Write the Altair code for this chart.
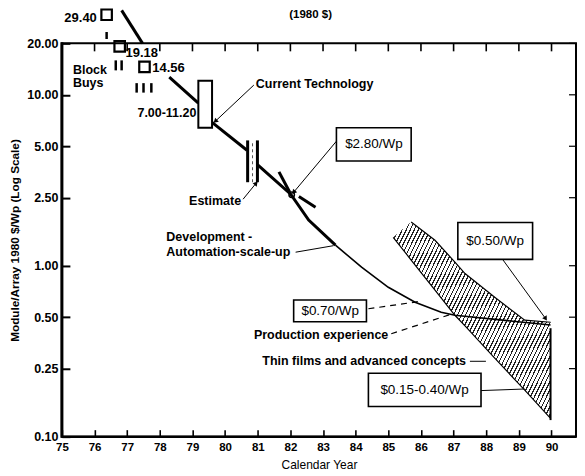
import math
import altair as alt
import pandas as pd

FONT = "Liberation Sans"
W, H = 515, 394
X0, X1 = 75, 90.75
V0, V1 = 0.1, 20

# ---------------- axis values ----------------
year_ticks = list(range(75, 91))
value_ticks = [0.10, 0.25, 0.50, 1.00, 2.50, 5.00, 10.00, 20.00]

# ---------------- data ----------------
# block buys (open squares)
bb_year = [76.37, 76.77, 77.53]
bb_value = [29.40, 19.18, 14.56]

# block buy tally strokes (I, II, III)
tally_year = [76.37, 76.65, 76.83, 77.29, 77.50, 77.74]
tally_top = [23.3, 15.9, 15.9, 11.7, 11.7, 11.7]
tally_bot = [21.2, 13.9, 13.9, 10.3, 10.3, 10.3]

# steep trend line leaving the top of the frame
steep_year = [76.83, 77.47]
steep_value = [31.2, 20.0]

# current technology
ct_in_year = [78.29, 79.18]
ct_in_value = [12.7, 8.94]
ct_box_year = [79.18, 79.60]
ct_box_value = [6.42, 12.1]
ct_out_year = [79.60, 80.67]
ct_out_value = [6.9, 4.74]

# estimate bar
est_bar_year = [80.69, 80.99]
est_mid_year = [80.84]
est_value = [3.08, 5.41]

# development / automation curve
dev_thick_year = [80.99, 82.01, 82.56, 83.38]
dev_thick_value = [3.90, 2.62, 1.85, 1.32]
dev_thin_year = [83.38, 84.18, 85.00, 85.82, 86.62, 87.04, 89.97]
dev_thin_value = [1.32, 0.98, 0.748, 0.611, 0.535, 0.513, 0.45]

# short strokes at the $2.80 point
tan_a_year = [81.65, 81.98]
tan_a_value = [3.54, 2.69]
tan_b_year = [82.26, 82.77]
tan_b_value = [2.54, 2.20]
pt280_year = [82.04]
pt280_value = [2.60]

# shaded (hatched) band: thin films and advanced concepts
band_year = [85.15, 85.70, 86.43, 87.04, 87.35, 88.26, 89.18, 89.97]
band_upper = [1.467, 1.80, 1.41, 1.05, 0.90, 0.654, 0.48, 0.467]
band_lower = [1.467, 1.08, 0.72, 0.513, 0.445, 0.288, 0.187, 0.128]
range90_year = [89.97]
range90_value = [0.125, 0.431]

# boxed labels
box_text = ["$2.80/Wp", "$0.50/Wp", "$0.70/Wp", "$0.15-0.40/Wp"]
box_x1 = [83.41, 87.13, 82.10, 84.39]
box_x2 = [85.70, 89.42, 84.33, 87.84]
box_v1 = [4.10, 1.09, 0.47, 0.150]
box_v2 = [6.42, 1.79, 0.63, 0.235]
box_tx = [84.56, 88.27, 83.22, 86.11]
box_tv = [5.13, 1.40, 0.545, 0.188]

# leader lines (solid)
lead_solid = {
    "ct": ([80.88, 79.70], [11.4, 7.0]),
    "est": ([80.55, 80.95], [2.45, 3.04]),
    "p280": ([83.41, 82.10], [5.35, 2.69]),
    "auto": ([82.16, 83.32], [1.20, 1.31]),
    "thin": ([87.50, 87.99], [0.276, 0.276]),
    "b15": ([87.84, 89.18], [0.186, 0.19]),
    "b50": ([88.50, 89.82], [1.09, 0.49]),
}
# leader lines (dashed)
lead_dash = {
    "b70": ([84.39, 86.01], [0.56, 0.62]),
    "prod": ([85.09, 86.92], [0.40, 0.52]),
}
# arrow heads
arrow_year = [79.70, 80.95, 82.10, 89.82]
arrow_value = [7.0, 3.04, 2.69, 0.49]
arrow_angle = [227, 40, 219, 148]

# text annotations
num_text = ["19.18", "14.56"]
num_x = [76.95, 77.77]
num_v = [17.6, 14.3]
num_r_text = ["29.40"]
num_r_x = [76.07]
num_r_v = [28.0]

left_text = ["Block", "Buys", "Current Technology", "Development -", "Automation-scale-up"]
left_x = [75.34, 75.34, 80.94, 78.20, 78.20]
left_v = [13.9, 11.7, 11.5, 1.47, 1.20]

right_text = ["7.00-11.20", "Estimate", "Production experience",
              "Thin films and advanced concepts"]
right_x = [79.12, 80.49, 85.00, 87.38]
right_v = [7.8, 2.4, 0.395, 0.276]

title_text = ["(1980 $)"]
title_x = [82.62]
title_v = [29.2]

# ---------------- scales and shared axes ----------------
xs = alt.Scale(domain=[X0, X1], nice=False, zero=False)
ys = alt.Scale(type="log", domain=[V0, V1], nice=False)

# axes are pulled inside the frame by their tick length so the ticks point inward
x_axis = alt.Axis(
    orient="bottom", values=year_ticks, format="d", labelFlush=False,
    labelOverlap=False, ticks=True, tickSize=7, tickWidth=1.6, offset=-7,
    domain=False, labelPadding=5, grid=False,
    labelFontSize=11.5, labelFontWeight="bold",
    title="Calendar Year", titleFontSize=12, titleFontWeight="normal",
    titlePadding=6)
y_axis = alt.Axis(
    orient="left", values=value_ticks, format=".2f", labelOverlap=False,
    ticks=True, tickSize=8, tickWidth=2, offset=-8,
    domain=False, labelPadding=4, grid=False,
    labelFontSize=12.5, labelFontWeight="bold",
    title="Module/Array 1980 $/Wp (Log Scale)", titleFontSize=11.8,
    titleFontWeight="bold", titlePadding=6)


def X(f="year"):
    return alt.X(f"{f}:Q", scale=xs, axis=x_axis)


def Y(f="value"):
    return alt.Y(f"{f}:Q", scale=ys, axis=y_axis)


def seg_df(segs):
    rows = []
    for name, (xv, vv) in segs.items():
        for a, b in zip(xv, vv):
            rows.append({"seg": name, "year": a, "value": b})
    return pd.DataFrame(rows)


# inward ticks on the top and right frame, heavier left/bottom frame lines
tick_top = alt.Chart(pd.DataFrame({"year": year_ticks})).mark_rule(
    color="black", strokeWidth=1.6).encode(x=X(), y=alt.value(0), y2=alt.value(8))
tick_right = alt.Chart(pd.DataFrame({"value": value_ticks})).mark_rule(
    color="black", strokeWidth=1.2).encode(y=Y(), x=alt.value(W - 7), x2=alt.value(W))
frame_left = alt.Chart(pd.DataFrame({"value": [V0]})).mark_rule(
    color="black", strokeWidth=3).encode(x=alt.value(0), y=alt.value(-1), y2=alt.value(H + 1))
frame_bottom = alt.Chart(pd.DataFrame({"value": [V0]})).mark_rule(
    color="black", strokeWidth=2.5).encode(y=alt.value(H), x=alt.value(0), x2=alt.value(W))

# ---------------- hatched band ----------------
N = 64
stops = []
for i in range(N):
    a = i / N
    b = (i + 0.32) / N
    c = (i + 1) / N
    stops += [{"offset": a, "color": "#222222"}, {"offset": b, "color": "#222222"},
              {"offset": b, "color": "#ffffff"}, {"offset": c, "color": "#ffffff"}]
hatch_fill = {"gradient": "linear", "x1": 0, "y1": 0, "x2": 1.2, "y2": 0.72, "stops": stops}

band_df = pd.DataFrame({"year": band_year, "upper": band_upper, "lower": band_lower})
band = alt.Chart(band_df).mark_area(fill=hatch_fill, strokeWidth=0).encode(
    x=X(), y=Y("upper"), y2="lower:Q")
band_up = alt.Chart(band_df.iloc[1:]).mark_line(color="black", strokeWidth=1.2).encode(
    x=X(), y=Y("upper"))
band_lo = alt.Chart(band_df).mark_line(color="black", strokeWidth=1.2).encode(
    x=X(), y=Y("lower"))

range90 = alt.Chart(pd.DataFrame({"year": range90_year, "lo": [range90_value[0]],
                                  "hi": [range90_value[1]]})).mark_rule(
    color="black", strokeWidth=2).encode(x=X(), y=Y("lo"), y2="hi:Q")

# ---------------- main lines ----------------
thick_df = seg_df({
    "steep": (steep_year, steep_value),
    "ct_in": (ct_in_year, ct_in_value),
    "ct_out": (ct_out_year, ct_out_value),
    "dev": (dev_thick_year, dev_thick_value),
    "ta": (tan_a_year, tan_a_value),
    "tb": (tan_b_year, tan_b_value),
})
thick = alt.Chart(thick_df).mark_line(color="black", strokeWidth=3, clip=False).encode(
    x=X(), y=Y(), detail="seg:N")

dev_thin = alt.Chart(pd.DataFrame({"year": dev_thin_year, "value": dev_thin_value})).mark_line(
    color="black", strokeWidth=1.6).encode(x=X(), y=Y())

pt280 = alt.Chart(pd.DataFrame({"year": pt280_year, "value": pt280_value})).mark_point(
    shape="circle", filled=False, color="black", size=30, strokeWidth=1.5, opacity=1).encode(
    x=X(), y=Y())

# current technology box
ct_box = alt.Chart(pd.DataFrame({"x1": [ct_box_year[0]], "x2": [ct_box_year[1]],
                                 "v1": [ct_box_value[0]], "v2": [ct_box_value[1]]})).mark_rect(
    fill="white", stroke="black", strokeWidth=2).encode(
    x=X("x1"), x2="x2:Q", y=Y("v1"), y2="v2:Q")

# estimate bars
est_df = pd.DataFrame({"year": est_bar_year, "lo": [est_value[0]] * 2, "hi": [est_value[1]] * 2})
est_bars = alt.Chart(est_df).mark_rule(color="black", strokeWidth=3).encode(
    x=X(), y=Y("lo"), y2="hi:Q")
est_mid = alt.Chart(pd.DataFrame({"year": est_mid_year, "lo": [est_value[0]],
                                  "hi": [est_value[1]]})).mark_rule(
    color="#555555", strokeWidth=1, strokeDash=[3, 3]).encode(x=X(), y=Y("lo"), y2="hi:Q")

# block buys
bb = alt.Chart(pd.DataFrame({"year": bb_year, "value": bb_value})).mark_point(
    shape="square", filled=False, color="black", size=110, strokeWidth=2.2, opacity=1,
    clip=False).encode(x=X(), y=Y())
tally = alt.Chart(pd.DataFrame({"year": tally_year, "lo": tally_bot, "hi": tally_top})).mark_rule(
    color="black", strokeWidth=2.5, clip=False).encode(x=X(), y=Y("lo"), y2="hi:Q")

# leaders
lead_s = alt.Chart(seg_df(lead_solid)).mark_line(color="black", strokeWidth=1).encode(
    x=X(), y=Y(), detail="seg:N")
lead_d = alt.Chart(seg_df(lead_dash)).mark_line(color="black", strokeWidth=1.2,
                                                strokeDash=[6, 5]).encode(
    x=X(), y=Y(), detail="seg:N")
arrows = alt.Chart(pd.DataFrame({"year": arrow_year, "value": arrow_value,
                                 "ang": arrow_angle})).mark_point(
    shape="triangle-up", filled=True, color="black", size=28, opacity=1).encode(
    x=X(), y=Y(), angle=alt.Angle("ang:Q", scale=None))

# boxed labels
box_df = pd.DataFrame({"text": box_text, "x1": box_x1, "x2": box_x2, "v1": box_v1,
                       "v2": box_v2, "tx": box_tx, "tv": box_tv})
boxes = alt.Chart(box_df).mark_rect(fill="white", stroke="black", strokeWidth=1.6).encode(
    x=X("x1"), x2="x2:Q", y=Y("v1"), y2="v2:Q")
box_labels = alt.Chart(box_df).mark_text(font=FONT, fontSize=13.5, color="black",
                                         align="center", baseline="middle").encode(
    x=X("tx"), y=Y("tv"), text="text:N")


# texts
def text_layer(xv, vv, tv, align, size):
    return alt.Chart(pd.DataFrame({"year": xv, "value": vv, "t": tv})).mark_text(
        font=FONT, fontSize=size, fontWeight="bold", color="black", align=align,
        baseline="middle").encode(x=X(), y=Y(), text="t:N")


txt_num = text_layer(num_x, num_v, num_text, "left", 13)
txt_num_r = text_layer(num_r_x, num_r_v, num_r_text, "right", 13)
txt_left = text_layer(left_x, left_v, left_text, "left", 12.5)
txt_right = text_layer(right_x, right_v, right_text, "right", 12.5)
txt_title = text_layer(title_x, title_v, title_text, "center", 11.5)

chart = alt.layer(
    band, band_up, band_lo, range90,
    dev_thin, thick, pt280,
    ct_box, est_bars, est_mid,
    bb, tally,
    lead_s, lead_d, arrows,
    boxes, box_labels,
    txt_num, txt_num_r, txt_left, txt_right, txt_title,
    tick_top, tick_right, frame_left, frame_bottom,
).properties(
    width=W, height=H,
    autosize=alt.AutoSizeParams(type="none"),
    padding={"left": 54, "top": 35, "right": 1, "bottom": 38},
    background="white",
).configure_view(stroke="black", strokeWidth=2).configure_axis(
    grid=False, labelFont=FONT, titleFont=FONT, tickColor="black",
    labelColor="black", titleColor="black")

chart.save("out.html", embed_options={"renderer": "svg", "actions": False})
